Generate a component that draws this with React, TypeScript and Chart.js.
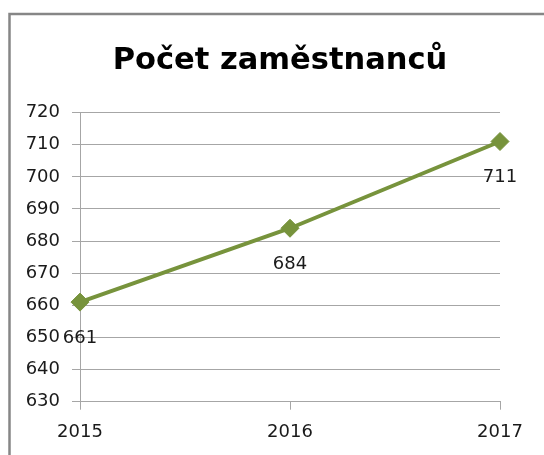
import React, { useEffect, useRef } from 'react';
import { Chart, registerables } from 'chart.js';

Chart.register(...registerables);

const title = 'Počet zaměstnanců';
const categories = ['2015', '2016', '2017'];
const employees = [661, 684, 711];
const yMin = 630;
const yMax = 720;
const yStep = 10;

const FONT = 'DejaVu Sans';
const GRID = '#a6a6a6';
const LINE = '#77933C';

const framePlugin = {
  id: 'frame',
  beforeDraw(chart: any) {
    const ctx = chart.ctx;
    ctx.save();
    ctx.fillStyle = '#ffffff';
    ctx.fillRect(0, 0, chart.width, chart.height);
    ctx.strokeStyle = '#868686';
    ctx.lineWidth = 2.5;
    ctx.strokeRect(9.5, 14, chart.width + 20, chart.height + 20);
    ctx.restore();
  },
};

// shift the title block so it is centred like the original (over the whole frame)
const titleShiftPlugin = {
  id: 'titleShift',
  afterLayout(chart: any) {
    const tb = chart.titleBlock;
    if (tb) {
      tb.left += 20;
      tb.right += 20;
    }
  },
};

const valueLabelPlugin = {
  id: 'valueLabels',
  afterDatasetsDraw(chart: any) {
    const ctx = chart.ctx;
    const meta = chart.getDatasetMeta(0);
    const data = chart.data.datasets[0].data;
    ctx.save();
    ctx.font = `18px "${FONT}"`;
    ctx.fillStyle = '#1a1a1a';
    ctx.textAlign = 'center';
    ctx.textBaseline = 'middle';
    meta.data.forEach((pt: any, i: number) => {
      ctx.fillText(String(data[i]), pt.x, pt.y + 36);
    });
    ctx.restore();
  },
};

export default function App() {
  const ref = useRef<HTMLCanvasElement>(null);

  useEffect(() => {
    if (!ref.current) return;
    const chart = new Chart(ref.current, {
      type: 'line',
      data: {
        labels: categories,
        datasets: [
          {
            data: employees,
            borderColor: LINE,
            backgroundColor: LINE,
            borderWidth: 4,
            pointStyle: 'rectRot',
            pointRadius: 9,
            pointBorderWidth: 1,
            pointBorderColor: LINE,
            pointBackgroundColor: LINE,
            tension: 0,
            fill: false,
          },
        ],
      },
      options: {
        responsive: false,
        animation: false,
        devicePixelRatio: 1,
        layout: { padding: { left: 20, right: 44, top: 43, bottom: 0 } },
        plugins: {
          legend: { display: false },
          tooltip: { enabled: false },
          title: {
            display: true,
            text: title,
            color: '#000000',
            font: { family: FONT, size: 30.5, weight: 'bold', lineHeight: 1.2 },
            padding: { top: 0, bottom: 33 },
          },
        },
        scales: {
          x: {
            offset: false,
            grid: { drawOnChartArea: false, drawTicks: true, tickLength: 8, color: GRID },
            border: { color: GRID },
            ticks: { color: '#1a1a1a', font: { family: FONT, size: 18 }, padding: 12, maxRotation: 0 },
            afterFit: (scale: any) => {
              scale.height = 53.3;
            },
          },
          y: {
            min: yMin,
            max: yMax,
            grid: { color: GRID, tickLength: 8 },
            border: { color: GRID },
            ticks: { stepSize: yStep, color: '#1a1a1a', font: { family: FONT, size: 18 }, padding: 12 },
            afterFit: (scale: any) => {
              scale.width = 60;
            },
          },
        },
      },
      plugins: [framePlugin, titleShiftPlugin, valueLabelPlugin],
    });
    return () => chart.destroy();
  }, []);

  return (
    <div style={{ position: 'absolute', left: 0, top: 0, width: 544, height: 455 }}>
      <canvas ref={ref} width={544} height={455} style={{ display: 'block' }} />
    </div>
  );
}
